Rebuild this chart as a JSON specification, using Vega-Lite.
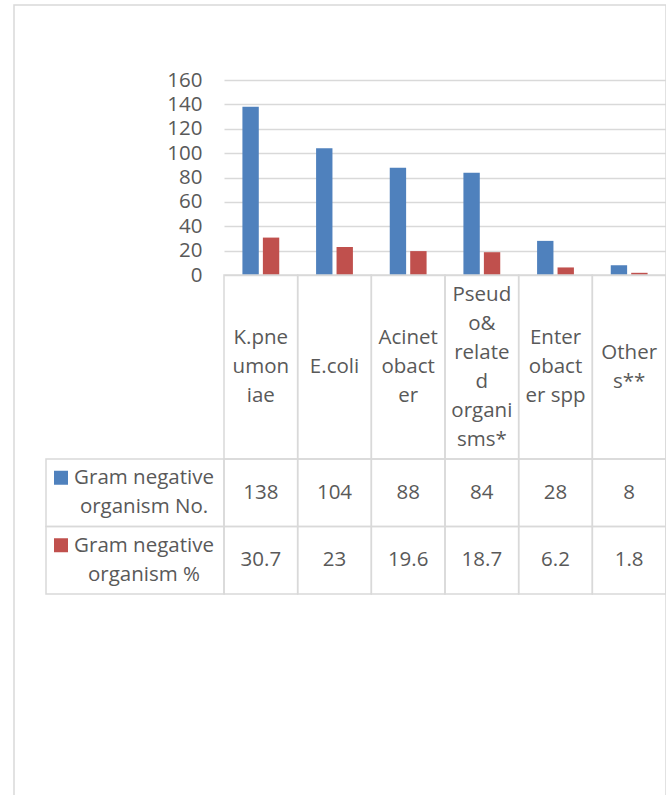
{
  "$schema": "https://vega.github.io/schema/vega-lite/v6.json",
  "width": 652,
  "height": 792,
  "autosize": {"type": "none"},
  "padding": {"left": 14, "top": 5, "right": 0, "bottom": 0},
  "background": "white",
  "config": {
    "view": {"stroke": "#D9D9D9", "strokeWidth": 1.5},
    "font": "Open Sans",
    "text": {"font": "Open Sans", "fontSize": 20.5, "color": "#595959", "lineBreak": "\n", "lineHeight": 29}
  },
  "datasets": {
    "table": [
      {"cat": "K.pneumoniae", "series": "Gram negative organism No.", "value": 138},
      {"cat": "E.coli", "series": "Gram negative organism No.", "value": 104},
      {"cat": "Acinetobacter", "series": "Gram negative organism No.", "value": 88},
      {"cat": "Pseudo& related organisms*", "series": "Gram negative organism No.", "value": 84},
      {"cat": "Enterobacter spp", "series": "Gram negative organism No.", "value": 28},
      {"cat": "Others**", "series": "Gram negative organism No.", "value": 8},
      {"cat": "K.pneumoniae", "series": "Gram negative organism %", "value": 30.7},
      {"cat": "E.coli", "series": "Gram negative organism %", "value": 23},
      {"cat": "Acinetobacter", "series": "Gram negative organism %", "value": 19.6},
      {"cat": "Pseudo& related organisms*", "series": "Gram negative organism %", "value": 18.7},
      {"cat": "Enterobacter spp", "series": "Gram negative organism %", "value": 6.2},
      {"cat": "Others**", "series": "Gram negative organism %", "value": 1.8}
    ],
    "cats": [
      {"cat": "K.pneumoniae", "label": "K.pne\numon\niae"},
      {"cat": "E.coli", "label": "E.coli"},
      {"cat": "Acinetobacter", "label": "Acinet\nobact\ner"},
      {"cat": "Pseudo& related organisms*", "label": "Pseud\no&\nrelate\nd\norgani\nsms*"},
      {"cat": "Enterobacter spp", "label": "Enter\nobact\ner spp"},
      {"cat": "Others**", "label": "Other\ns**"}
    ],
    "series": [
      {"series": "Gram negative organism No.", "label": "Gram negative\norganism No."},
      {"series": "Gram negative organism %", "label": "Gram negative\norganism %"}
    ]
  },
  "layer": [
    {
      "data": {"name": "table"},
      "mark": {"type": "bar"},
      "encoding": {
        "x": {"field": "cat", "type": "nominal", "axis": null,
          "scale": {"domain": ["K.pneumoniae", "E.coli", "Acinetobacter", "Pseudo& related organisms*", "Enterobacter spp", "Others**"], "range": [210, 652], "paddingInner": 0.5, "paddingOuter": 0.25}},
        "xOffset": {"field": "series", "type": "nominal",
          "scale": {"domain": ["Gram negative organism No.", "Gram negative organism %"], "paddingInner": 0.2}},
        "y": {"field": "value", "type": "quantitative",
          "scale": {"domain": [0, 160], "range": [270, 75], "nice": false, "zero": true},
          "axis": {"values": [0, 20, 40, 60, 80, 100, 120, 140, 160], "grid": true, "gridColor": "#D9D9D9", "gridWidth": 1.5, "domain": false, "ticks": false, "tickSize": 0, "labelPadding": 22, "offset": -210, "labelFont": "Open Sans", "labelFontSize": 20.5, "labelColor": "#595959", "title": null}},
        "color": {"field": "series", "type": "nominal", "legend": null,
          "scale": {"domain": ["Gram negative organism No.", "Gram negative organism %"], "range": ["#4F81BD", "#C0504D"]}}
      }
    },
    {
      "data": {"name": "cats"},
      "mark": {"type": "rect", "fill": "transparent", "stroke": "#D9D9D9", "strokeWidth": 1.5},
      "encoding": {
        "x": {"field": "cat", "type": "nominal", "axis": null,
          "scale": {"domain": ["K.pneumoniae", "E.coli", "Acinetobacter", "Pseudo& related organisms*", "Enterobacter spp", "Others**"], "range": [210, 652], "paddingInner": 0, "paddingOuter": 0}},
        "y": {"datum": "header", "type": "nominal", "axis": null,
          "scale": {"domain": ["header"], "range": [270, 454], "paddingInner": 0, "paddingOuter": 0}}
      }
    },
    {
      "data": {"name": "cats"},
      "transform": [{"filter": {"field": "cat", "oneOf": ["E.coli"]}}],
      "mark": {"type": "text", "align": "center", "baseline": "middle"},
      "encoding": {
        "x": {"field": "cat", "type": "nominal", "axis": null,
          "scale": {"domain": ["K.pneumoniae", "E.coli", "Acinetobacter", "Pseudo& related organisms*", "Enterobacter spp", "Others**"], "range": [210, 652], "paddingInner": 0, "paddingOuter": 0}},
        "y": {"datum": "header", "type": "nominal", "axis": null,
          "scale": {"domain": ["header"], "range": [270, 454], "paddingInner": 0, "paddingOuter": 0}},
        "text": {"field": "label", "type": "nominal"}
      }
    },
    {
      "data": {"name": "cats"},
      "transform": [{"filter": {"field": "cat", "oneOf": ["Others**"]}}],
      "mark": {"type": "text", "align": "center", "baseline": "middle", "yOffset": -14.5},
      "encoding": {
        "x": {"field": "cat", "type": "nominal", "axis": null,
          "scale": {"domain": ["K.pneumoniae", "E.coli", "Acinetobacter", "Pseudo& related organisms*", "Enterobacter spp", "Others**"], "range": [210, 652], "paddingInner": 0, "paddingOuter": 0}},
        "y": {"datum": "header", "type": "nominal", "axis": null,
          "scale": {"domain": ["header"], "range": [270, 454], "paddingInner": 0, "paddingOuter": 0}},
        "text": {"field": "label", "type": "nominal"}
      }
    },
    {
      "data": {"name": "cats"},
      "transform": [{"filter": {"field": "cat", "oneOf": ["K.pneumoniae", "Acinetobacter", "Enterobacter spp"]}}],
      "mark": {"type": "text", "align": "center", "baseline": "middle", "yOffset": -29},
      "encoding": {
        "x": {"field": "cat", "type": "nominal", "axis": null,
          "scale": {"domain": ["K.pneumoniae", "E.coli", "Acinetobacter", "Pseudo& related organisms*", "Enterobacter spp", "Others**"], "range": [210, 652], "paddingInner": 0, "paddingOuter": 0}},
        "y": {"datum": "header", "type": "nominal", "axis": null,
          "scale": {"domain": ["header"], "range": [270, 454], "paddingInner": 0, "paddingOuter": 0}},
        "text": {"field": "label", "type": "nominal"}
      }
    },
    {
      "data": {"name": "cats"},
      "transform": [{"filter": {"field": "cat", "oneOf": ["Pseudo& related organisms*"]}}],
      "mark": {"type": "text", "align": "center", "baseline": "middle", "yOffset": -72.5},
      "encoding": {
        "x": {"field": "cat", "type": "nominal", "axis": null,
          "scale": {"domain": ["K.pneumoniae", "E.coli", "Acinetobacter", "Pseudo& related organisms*", "Enterobacter spp", "Others**"], "range": [210, 652], "paddingInner": 0, "paddingOuter": 0}},
        "y": {"datum": "header", "type": "nominal", "axis": null,
          "scale": {"domain": ["header"], "range": [270, 454], "paddingInner": 0, "paddingOuter": 0}},
        "text": {"field": "label", "type": "nominal"}
      }
    },
    {
      "data": {"name": "table"},
      "mark": {"type": "rect", "fill": "transparent", "stroke": "#D9D9D9", "strokeWidth": 1.5},
      "encoding": {
        "x": {"field": "cat", "type": "nominal", "axis": null,
          "scale": {"domain": ["K.pneumoniae", "E.coli", "Acinetobacter", "Pseudo& related organisms*", "Enterobacter spp", "Others**"], "range": [210, 652], "paddingInner": 0, "paddingOuter": 0}},
        "y": {"field": "series", "type": "nominal", "axis": null,
          "scale": {"domain": ["Gram negative organism No.", "Gram negative organism %"], "range": [454, 589], "paddingInner": 0, "paddingOuter": 0}}
      }
    },
    {
      "data": {"name": "table"},
      "mark": {"type": "text", "align": "center", "baseline": "middle"},
      "encoding": {
        "x": {"field": "cat", "type": "nominal", "axis": null,
          "scale": {"domain": ["K.pneumoniae", "E.coli", "Acinetobacter", "Pseudo& related organisms*", "Enterobacter spp", "Others**"], "range": [210, 652], "paddingInner": 0, "paddingOuter": 0}},
        "y": {"field": "series", "type": "nominal", "axis": null,
          "scale": {"domain": ["Gram negative organism No.", "Gram negative organism %"], "range": [454, 589], "paddingInner": 0, "paddingOuter": 0}},
        "text": {"field": "value", "type": "quantitative", "format": "~g"}
      }
    },
    {
      "data": {"name": "series"},
      "mark": {"type": "rect", "fill": "transparent", "stroke": "#D9D9D9", "strokeWidth": 1.5},
      "encoding": {
        "x": {"datum": "legend", "type": "nominal", "axis": null,
          "scale": {"domain": ["legend"], "range": [32, 210], "paddingInner": 0, "paddingOuter": 0}},
        "y": {"field": "series", "type": "nominal", "axis": null,
          "scale": {"domain": ["Gram negative organism No.", "Gram negative organism %"], "range": [454, 589], "paddingInner": 0, "paddingOuter": 0}}
      }
    },
    {
      "data": {"name": "series"},
      "mark": {"type": "point", "shape": "square", "filled": true, "size": 196, "opacity": 1, "xOffset": -74, "yOffset": -15},
      "encoding": {
        "x": {"datum": "legend", "type": "nominal", "axis": null,
          "scale": {"domain": ["legend"], "range": [32, 210], "paddingInner": 0, "paddingOuter": 0}},
        "y": {"field": "series", "type": "nominal", "axis": null,
          "scale": {"domain": ["Gram negative organism No.", "Gram negative organism %"], "range": [454, 589], "paddingInner": 0, "paddingOuter": 0}},
        "color": {"field": "series", "type": "nominal", "legend": null}
      }
    },
    {
      "data": {"name": "series"},
      "mark": {"type": "text", "align": "center", "baseline": "middle", "xOffset": 9, "yOffset": -14.5},
      "encoding": {
        "x": {"datum": "legend", "type": "nominal", "axis": null,
          "scale": {"domain": ["legend"], "range": [32, 210], "paddingInner": 0, "paddingOuter": 0}},
        "y": {"field": "series", "type": "nominal", "axis": null,
          "scale": {"domain": ["Gram negative organism No.", "Gram negative organism %"], "range": [454, 589], "paddingInner": 0, "paddingOuter": 0}},
        "text": {"field": "label", "type": "nominal"}
      }
    }
  ],
  "resolve": {"scale": {"x": "independent", "y": "independent"}}
}
